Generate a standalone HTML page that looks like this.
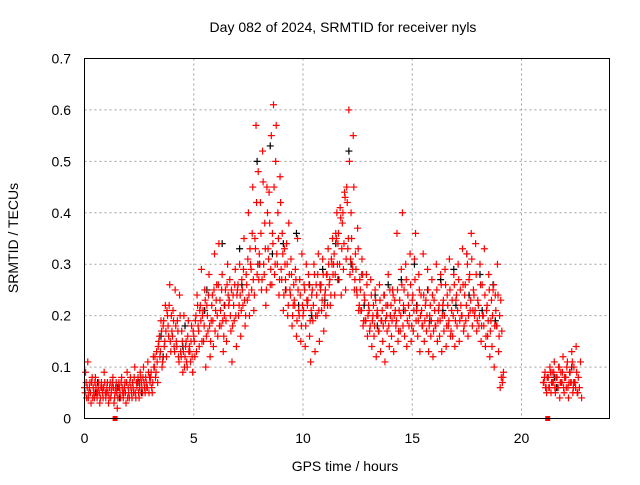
<!DOCTYPE html>
<html><head><meta charset="utf-8"><style>
body{margin:0;background:#fff}
svg text{font-family:"Liberation Sans",sans-serif;font-size:14px;fill:#000}
</style></head><body>
<svg id="chart" width="640" height="480">
<text x="343" y="32" text-anchor="middle">Day 082 of 2024, SRMTID for receiver nyls</text>
<text x="0" y="0" transform="translate(18,238) rotate(-90)" text-anchor="middle">SRMTID / TECUs</text>
<text x="345" y="471" text-anchor="middle">GPS time / hours</text>
<g id="grid"></g><g id="ticks"></g><g id="black"></g><g id="red"></g>
<rect x="84.5" y="58.5" width="525" height="360" fill="none" stroke="#000"/>
</svg>
<script>
const xTicks=[0,5,10,15,20];
const yTicks=[0,0.1,0.2,0.3,0.4,0.5,0.6,0.7];
const yTickLabels=["0","0.1","0.2","0.3","0.4","0.5","0.6","0.7"];
const redT=[0,0.2,0.4,0.6,0.8,1.0,1.2,1.4,1.6,1.8,2.0,2.2,2.4,2.6,2.8,3.0,3.2,3.4,3.6,3.8,4.0,4.2,4.4,4.6,4.8,5.0,5.2,5.4,5.6,5.8,6.0,6.2,6.4,6.6,6.8,7.0,7.2,7.4,7.6,7.8,8.0,8.2,8.4,8.6,8.8,9.0,9.2,9.4,9.6,9.8,10.0,10.2,10.4,10.6,10.8,11.0,11.2,11.4,11.6,11.8,12.0,12.2,12.4,12.6,12.8,13.0,13.2,13.4,13.6,13.8,14.0,14.2,14.4,14.6,14.8,15.0,15.2,15.4,15.6,15.8,16.0,16.2,16.4,16.6,16.8,17.0,17.2,17.4,17.6,17.8,18.0,18.2,18.4,18.6,18.8,19.0,21.0,21.2,21.4,21.6,21.8,22.0,22.2,22.4,22.6];
const redV=[[.06,.09,.04,.11],[.05,.07,.03,.08],[.06,.04,.08,.05],[.05,.07,.03,.06],[.06,.04,.09,.05],[.05,.07,.03,.06],[.04,.06,.08,.03],[.05,.07,.02,.06],[.06,.04,.08,.05],[.05,.07,.03,.09],[.06,.04,.08,.05],[.07,.05,.10,.04],[.06,.08,.04,.09],[.07,.05,.10,.06],[.08,.06,.11,.05],[.07,.09,.05,.12],[.10,.08,.13,.07],[.15,.12,.19,.10],[.18,.14,.22,.12],[.20,.16,.26,.13],[.17,.21,.14,.25],[.15,.19,.12,.24],[.13,.17,.09,.20],[.12,.15,.10,.19],[.14,.11,.18,.09],[.16,.12,.20,.24],[.18,.14,.22,.29],[.20,.15,.25,.10],[.22,.17,.28,.12],[.19,.24,.14,.32],[.21,.26,.16,.34],[.23,.18,.28,.13],[.20,.25,.15,.30],[.22,.27,.17,.11],[.24,.19,.29,.14],[.25,.20,.30,.16],[.27,.22,.35,.18],[.28,.23,.40,.20],[.30,.25,.45,.21],[.35,.57,.28,.48],[.32,.42,.25,.52],[.30,.38,.22,.45],[.33,.44,.26,.55],[.36,.61,.28,.50],[.32,.40,.24,.47],[.29,.36,.21,.33],[.27,.34,.20,.38],[.25,.31,.18,.22],[.23,.29,.16,.35],[.21,.27,.15,.32],[.20,.26,.14,.30],[.22,.28,.16,.11],[.24,.19,.30,.13],[.26,.20,.32,.15],[.25,.21,.31,.17],[.24,.20,.28,.33],[.26,.22,.31,.35],[.30,.24,.36,.40],[.34,.27,.41,.24],[.38,.29,.44,.25],[.45,.33,.60,.28],[.40,.30,.55,.25],[.32,.25,.37,.21],[.27,.21,.31,.18],[.24,.19,.28,.16],[.22,.17,.27,.14],[.20,.16,.25,.12],[.21,.17,.26,.13],[.19,.15,.24,.11],[.22,.17,.28,.14],[.20,.16,.25,.13],[.23,.18,.36,.15],[.21,.17,.29,.40],[.22,.16,.30,.14],[.24,.18,.32,.15],[.23,.17,.31,.36],[.21,.16,.28,.13],[.24,.18,.32,.15],[.22,.17,.29,.13],[.20,.16,.27,.12],[.23,.18,.30,.15],[.21,.16,.28,.13],[.22,.17,.29,.14],[.24,.18,.31,.16],[.21,.16,.28,.14],[.23,.18,.30,.15],[.25,.20,.33,.17],[.24,.19,.32,.16],[.27,.21,.36,.18],[.25,.20,.34,.17],[.23,.18,.30,.15],[.26,.20,.33,.14],[.21,.16,.28,.12],[.19,.14,.25,.10],[.24,.18,.30,.13],[.20,.23,.17,.08],[.07,.08,.06,.05],[.08,.06,.10,.05],[.09,.07,.11,.05],[.08,.06,.10,.04],[.09,.07,.12,.05],[.08,.06,.11,.04],[.09,.07,.13,.05],[.10,.07,.14,.05],[.08,.06,.11,.04]];
const redV2=[[.05,.07,.06,.04],[.06,.05,.07,.04],[.05,.07,.06,.04],[.06,.05,.04,.07],[.05,.06,.07,.04],[.06,.05,.04,.07],[.05,.07,.06,.04],[.06,.05,.04,.07],[.05,.07,.06,.04],[.06,.05,.07,.04],[.05,.07,.06,.04],[.06,.08,.05,.07],[.07,.05,.06,.08],[.06,.08,.07,.05],[.07,.06,.09,.08],[.08,.06,.07,.10],[.12,.09,.11,.14],[.16,.13,.17,.11],[.19,.15,.17,.21],[.18,.22,.15,.20],[.16,.19,.13,.18],[.14,.17,.11,.20],[.12,.15,.13,.10],[.14,.11,.16,.13],[.13,.15,.12,.17],[.15,.19,.13,.22],[.17,.21,.19,.15],[.21,.18,.23,.16],[.20,.24,.18,.15],[.22,.19,.25,.17],[.23,.20,.26,.18],[.21,.25,.19,.16],[.22,.19,.26,.24],[.23,.20,.25,.18],[.22,.26,.20,.24],[.26,.22,.24,.21],[.25,.29,.23,.20],[.26,.31,.24,.33],[.29,.36,.27,.24],[.33,.42,.30,.27],[.30,.36,.27,.46],[.28,.33,.25,.40],[.31,.38,.29,.26],[.34,.45,.30,.57],[.30,.35,.27,.42],[.27,.32,.24,.30],[.25,.30,.22,.28],[.24,.28,.20,.26],[.22,.27,.19,.25],[.20,.24,.18,.22],[.21,.25,.18,.23],[.23,.26,.19,.21],[.25,.22,.28,.20],[.24,.28,.21,.26],[.26,.23,.28,.22],[.25,.28,.22,.30],[.27,.24,.30,.28],[.32,.28,.35,.30],[.36,.30,.39,.33],[.40,.34,.43,.31],[.42,.35,.50,.31],[.35,.29,.45,.27],[.29,.24,.33,.22],[.25,.21,.28,.19],[.23,.19,.26,.20],[.21,.18,.24,.19],[.22,.18,.23,.20],[.20,.17,.23,.19],[.21,.18,.24,.19],[.20,.22,.18,.25],[.22,.19,.24,.20],[.21,.19,.25,.17],[.23,.20,.26,.18],[.25,.21,.27,.19],[.22,.20,.26,.18],[.24,.21,.27,.19],[.22,.19,.25,.20],[.21,.18,.24,.19],[.23,.20,.25,.18],[.22,.19,.24,.17],[.21,.18,.25,.19],[.22,.19,.26,.20],[.23,.20,.26,.18],[.22,.19,.25,.17],[.23,.20,.26,.19],[.24,.21,.27,.19],[.22,.20,.26,.18],[.26,.22,.30,.20],[.28,.23,.31,.21],[.24,.21,.28,.19],[.22,.20,.26,.18],[.20,.18,.24,.16],[.22,.19,.25,.17],[.23,.20,.26,.18],[.21,.18,.24,.16],[.06,.08,.07,.09],[.07,.09,.06,.08],[.08,.06,.09,.07],[.07,.09,.06,.08],[.08,.06,.10,.07],[.07,.09,.06,.08],[.08,.10,.06,.07],[.09,.07,.11,.06],[.07,.06,.09,.05]];
const blackT=[0.5,1.5,2.5,3.5,4.5,5.5,6.3,7.1,7.9,8.5,9.1,9.7,10.3,10.9,11.5,12.1,12.7,13.3,13.9,14.5,15.1,15.7,16.3,16.9,17.5,18.1,18.7,21.5,22.3];
const blackV=[[.05,.07],[.06,.04],[.07,.05],[.16,.12],[.14,.18],[.21,.25],[.34,.22],[.33,.26],[.50,.30],[.53,.32],[.34,.25],[.36,.22],[.26,.20],[.29,.23],[.34,.27],[.52,.30],[.28,.22],[.24,.18],[.26,.20],[.27,.21],[.30,.22],[.25,.19],[.27,.21],[.29,.22],[.32,.24],[.28,.21],[.26,.19],[.08,.06],[.10,.07]];
const zeroMarks=[1.4,21.2];
const NS="http://www.w3.org/2000/svg";
const xs=t=>84.5+t*21.85, ys=v=>418.5-v*514.3;
const mk=(tag,at,parent)=>{const e=document.createElementNS(NS,tag);for(const k in at)e.setAttribute(k,at[k]);parent.appendChild(e);return e;};
const grid=document.getElementById('grid'),ticks=document.getElementById('ticks');
xTicks.forEach(t=>{const x=xs(t);
 if(t>0){const l=mk('line',{x1:x,x2:x,y1:58.5,y2:418.5,stroke:'#a0a0a0','stroke-dasharray':'2,3'},grid);
 
 }
 const tx=mk('text',{x:x,y:443,'text-anchor':'middle'},ticks);tx.textContent=t;
 
 
});
yTicks.forEach((v,i)=>{const y=ys(v);
 if(i>0&&i<yTicks.length-1){const l=mk('line',{x1:84.5,x2:609.5,y1:y,y2:y,stroke:'#a0a0a0','stroke-dasharray':'2,3'},grid);
 
 }
 const tx=mk('text',{x:71,y:y+5,'text-anchor':'end'},ticks);tx.textContent=yTickLabels[i];
 
 
});
function plus(g,x,y,c){const p=mk('path',{d:`M${x-3.5},${y}h7M${x},${y-3.5}v7`,stroke:c,'stroke-width':1.2,fill:'none'},g);
 
 }
const gb=document.getElementById('black'),gr=document.getElementById('red');
zeroMarks.forEach(t=>{const r=mk('rect',{x:xs(t)-2.5,y:416,width:5,height:5,fill:'#f00'},gr);
 
 });
blackT.forEach((t,i)=>(blackV[i]||[]).forEach((v,k)=>plus(gb,xs(t+k*0.1),ys(v),'#000')));
redT.forEach((t,i)=>(redV[i]||[]).forEach((v,k)=>plus(gr,xs(t+k*0.05),ys(v),'#f00')));
redT.forEach((t,i)=>(redV2[i]||[]).forEach((v,k)=>plus(gr,xs(t+0.025+k*0.05),ys(v),'#f00')));
</script>
</body></html>
